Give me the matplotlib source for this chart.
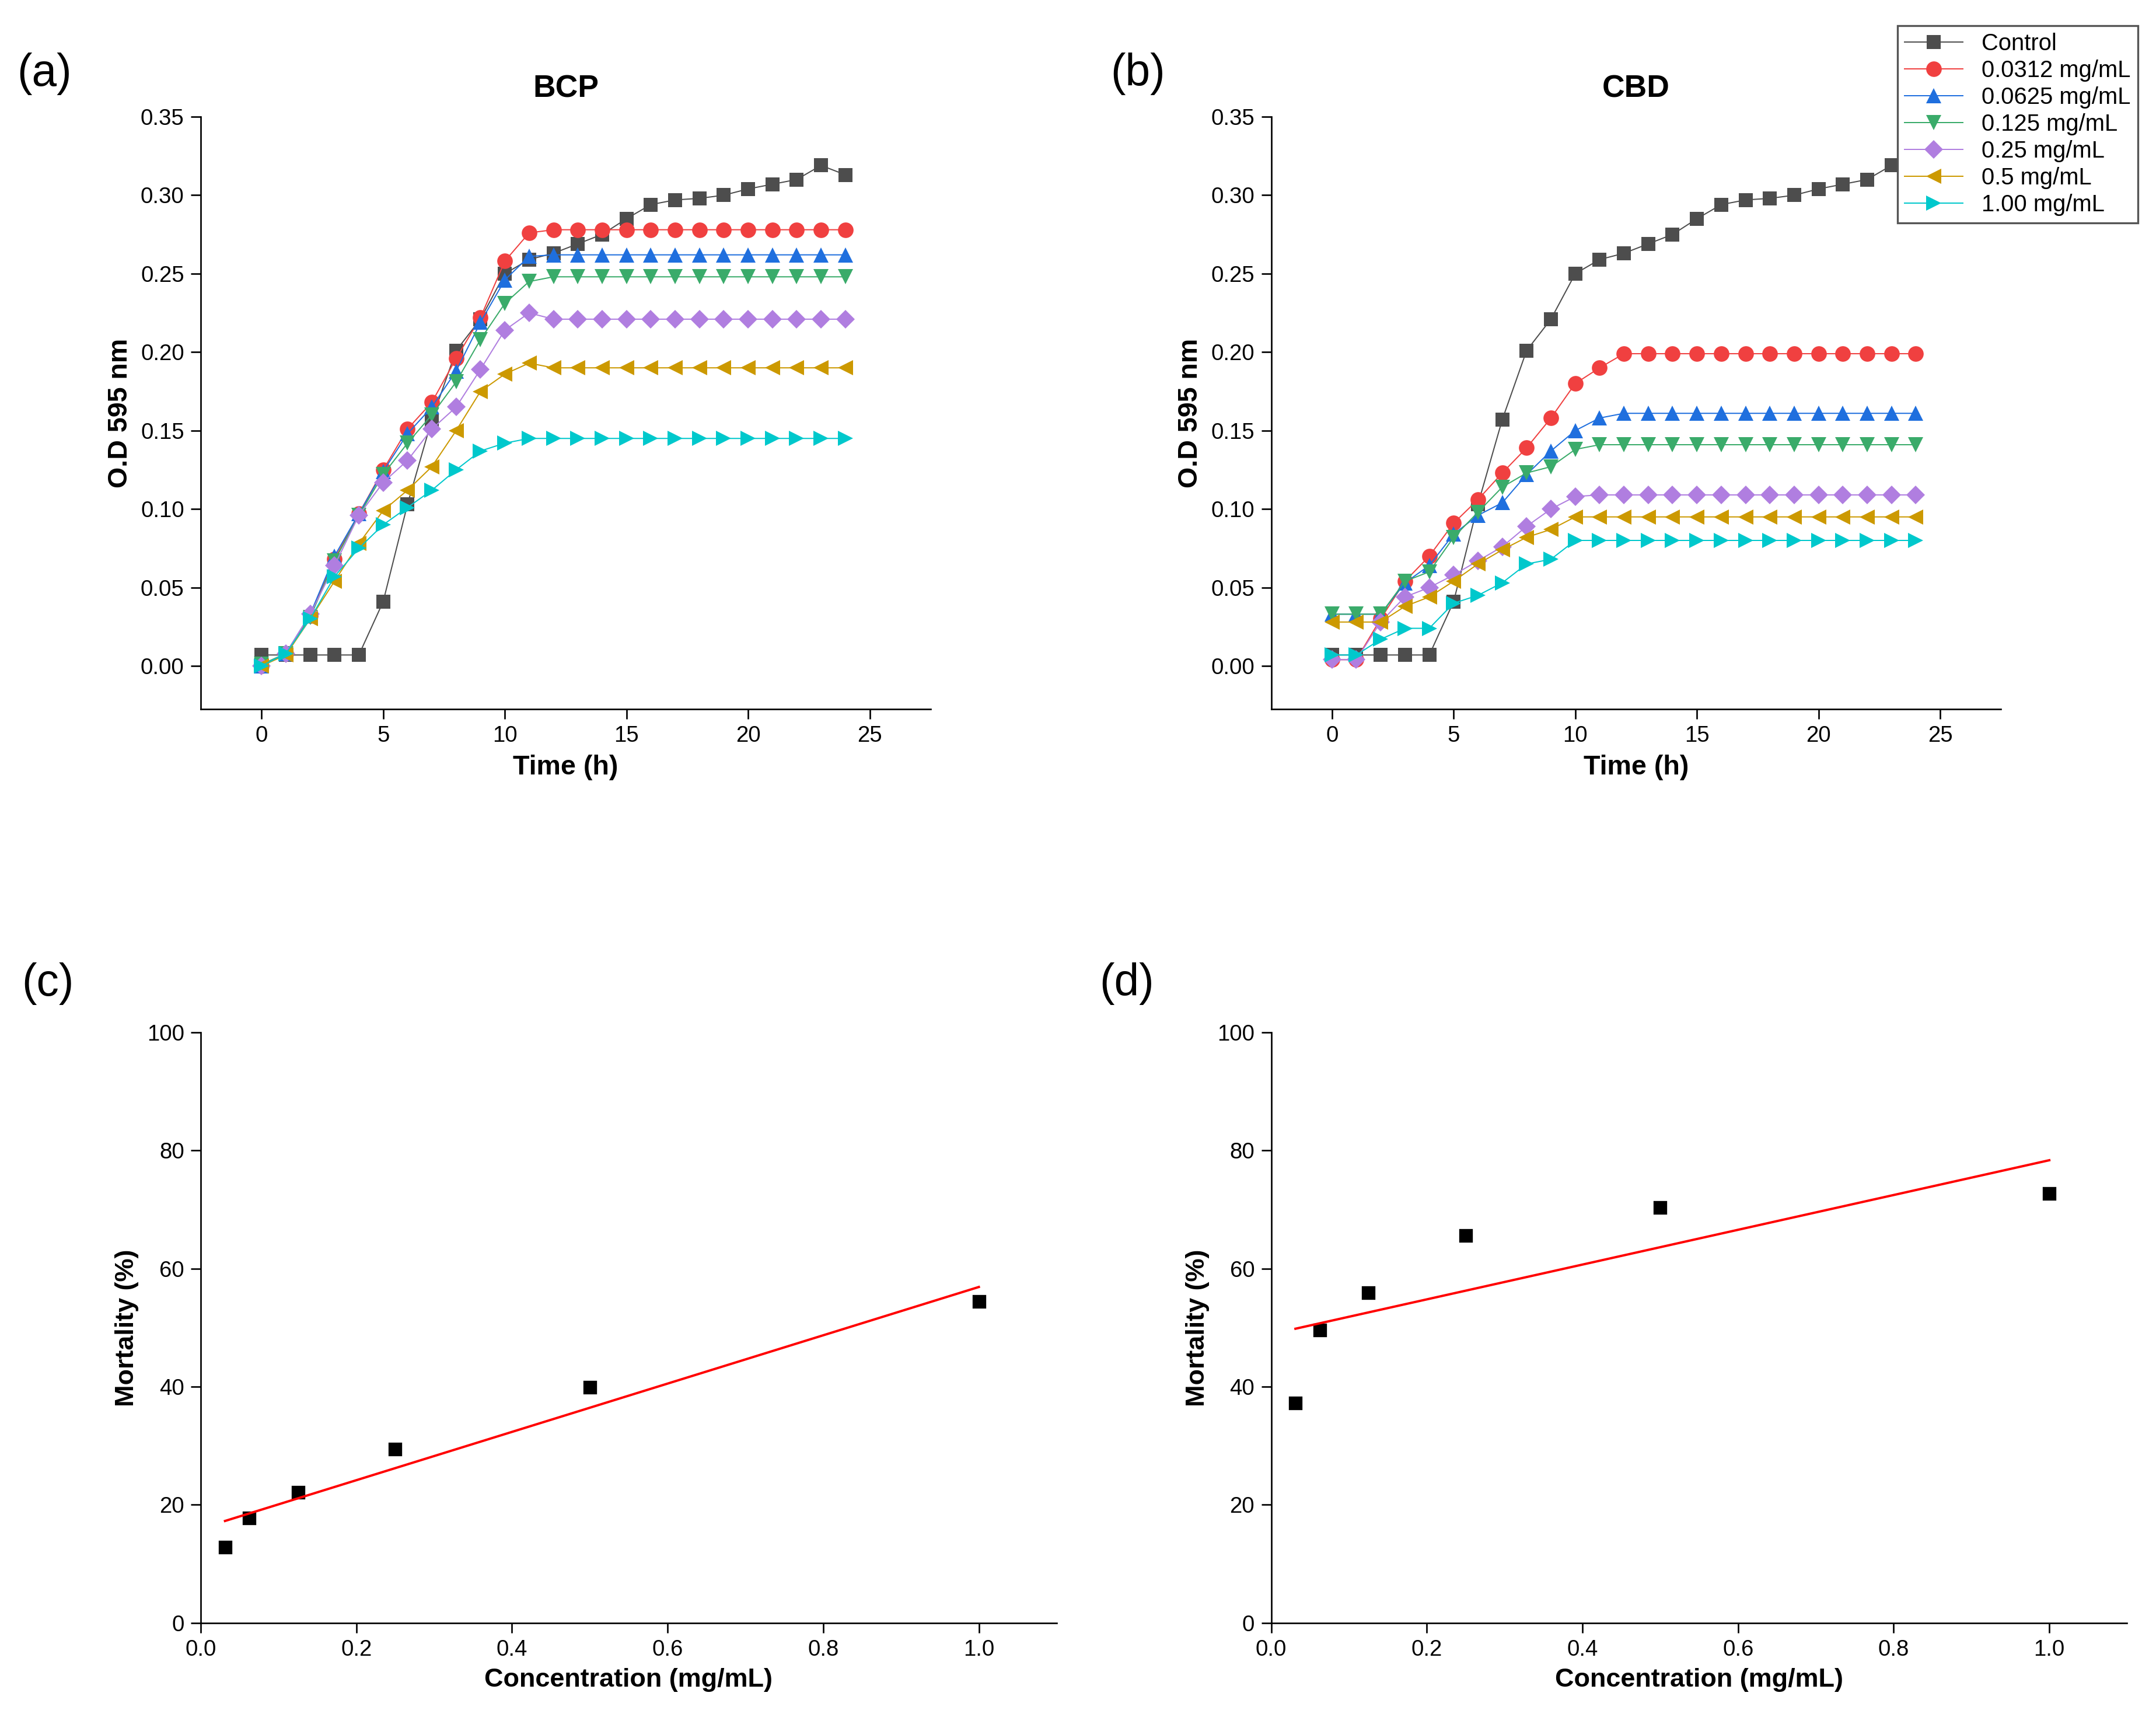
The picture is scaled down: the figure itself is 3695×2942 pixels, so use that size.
import matplotlib.pyplot as plt
import numpy as np

plt.rcParams['font.family'] = ['Liberation Sans', 'DejaVu Sans']

hours = np.arange(25)
series_labels = ["Control", "0.0312 mg/mL", "0.0625 mg/mL", "0.125 mg/mL",
                 "0.25 mg/mL", "0.5 mg/mL", "1.00 mg/mL"]
colors = ["#4d4d4d", "#f04040", "#1f6fde", "#3aab6a", "#b07ee0", "#cc9900", "#00c8cc"]
markers = ["s", "o", "^", "v", "D", "<", ">"]

control = [0.007, 0.007, 0.007, 0.007, 0.007, 0.041, 0.103, 0.157, 0.201, 0.221, 0.250,
           0.259, 0.263, 0.269, 0.275, 0.285, 0.294, 0.297, 0.298, 0.300, 0.304, 0.307,
           0.310, 0.319, 0.313]

bcp = [
    control,
    [0.0, 0.008, 0.032, 0.068, 0.097, 0.125, 0.151, 0.168, 0.196, 0.222, 0.258, 0.276] + [0.278] * 13,
    [0.0, 0.008, 0.033, 0.070, 0.097, 0.124, 0.148, 0.165, 0.188, 0.219, 0.246, 0.261] + [0.262] * 13,
    [0.001, 0.008, 0.031, 0.067, 0.096, 0.122, 0.142, 0.160, 0.181, 0.208, 0.231, 0.245] + [0.248] * 13,
    [0.0, 0.008, 0.033, 0.064, 0.096, 0.117, 0.131, 0.151, 0.165, 0.189, 0.214, 0.225] + [0.221] * 13,
    [0.0, 0.007, 0.030, 0.054, 0.078, 0.099, 0.112, 0.127, 0.150, 0.175, 0.186, 0.193] + [0.190] * 13,
    [0.0, 0.008, 0.030, 0.057, 0.075, 0.090, 0.101, 0.112, 0.125, 0.137, 0.142, 0.145] + [0.145] * 13,
]

cbd = [
    control,
    [0.004, 0.004, 0.030, 0.054, 0.070, 0.091, 0.106, 0.123, 0.139, 0.158, 0.180, 0.190] + [0.199] * 13,
    [0.033, 0.033, 0.033, 0.053, 0.064, 0.084, 0.096, 0.104, 0.122, 0.137, 0.150, 0.158] + [0.161] * 13,
    [0.033, 0.033, 0.033, 0.054, 0.060, 0.082, 0.098, 0.114, 0.123, 0.127, 0.138, 0.141] + [0.141] * 13,
    [0.004, 0.004, 0.028, 0.044, 0.050, 0.058, 0.067, 0.076, 0.089, 0.100, 0.108, 0.109] + [0.109] * 13,
    [0.028, 0.028, 0.028, 0.038, 0.044, 0.054, 0.065, 0.074, 0.082, 0.087, 0.095, 0.095] + [0.095] * 13,
    [0.007, 0.007, 0.017, 0.024, 0.024, 0.040, 0.045, 0.053, 0.065, 0.068, 0.080, 0.080] + [0.080] * 13,
]

conc = np.array([0.0312, 0.0625, 0.125, 0.25, 0.5, 1.0])
mort_bcp = np.array([12.8, 17.8, 22.1, 29.4, 39.9, 54.4])
mort_cbd = np.array([37.2, 49.6, 55.9, 65.6, 70.3, 72.7])

fig = plt.figure(figsize=(3695 / 240, 2942 / 240), dpi=240)
ax_a = fig.add_axes([0.0931, 0.587, 0.3385, 0.345])
ax_b = fig.add_axes([0.5896, 0.587, 0.3385, 0.345])
ax_c = fig.add_axes([0.0931, 0.0548, 0.397, 0.344])
ax_d = fig.add_axes([0.5896, 0.0548, 0.397, 0.344])


def style(ax):
    for s in ("top", "right"):
        ax.spines[s].set_visible(False)
    ax.tick_params(direction="out", labelsize=11.5, length=5)


handles = []
for ax, data, title in ((ax_a, bcp, "BCP"), (ax_b, cbd, "CBD")):
    for vals, c, m, lab in zip(data, colors, markers, series_labels):
        ms = 7 if m in ("s", "D") else 8
        h, = ax.plot(hours, vals, color=c, marker=m, markersize=ms, lw=0.6,
                     markeredgewidth=0, label=lab)
        if ax is ax_a:
            handles.append(h)
    ax.set_xlim(-2.5, 27.5)
    ax.set_ylim(-0.0275, 0.35)
    ax.set_xticks([0, 5, 10, 15, 20, 25])
    ax.set_yticks(np.arange(0, 0.351, 0.05))
    ax.yaxis.set_major_formatter(plt.FormatStrFormatter("%.2f"))
    ax.set_xlabel("Time (h)", fontsize=14, fontweight="bold")
    ax.set_ylabel("O.D 595 nm", fontsize=14, fontweight="bold")
    ax.set_title(title, fontsize=16, fontweight="bold", pad=10)
    style(ax)

for ax, mort in ((ax_c, mort_bcp), (ax_d, mort_cbd)):
    ax.plot(conc, mort, "s", color="black", markersize=6)
    k, b = np.polyfit(conc, mort, 1)
    ax.plot(conc[[0, -1]], k * conc[[0, -1]] + b, color="red", lw=1.2)
    ax.set_xlim(0, 1.1)
    ax.set_ylim(0, 100)
    ax.set_xticks(np.arange(0, 1.01, 0.2))
    ax.set_yticks(np.arange(0, 101, 20))
    ax.xaxis.set_major_formatter(plt.FormatStrFormatter("%.1f"))
    ax.set_xlabel("Concentration (mg/mL)", fontsize=13.5, fontweight="bold")
    ax.set_ylabel("Mortality (%)", fontsize=13.5, fontweight="bold")
    style(ax)

for lab, x, y in (("(a)", 0.008, 0.95), ("(b)", 0.515, 0.95),
                  ("(c)", 0.01, 0.42), ("(d)", 0.51, 0.42)):
    fig.text(x, y, lab, fontsize=23)

fig.legend(handles=handles, loc="upper right", bbox_to_anchor=(0.997, 0.992),
           fontsize=12, frameon=True, fancybox=False, edgecolor="#555555",
           borderpad=0.3, labelspacing=0.2, handlelength=2.5, framealpha=1)

fig.savefig("out.png", dpi=240)
